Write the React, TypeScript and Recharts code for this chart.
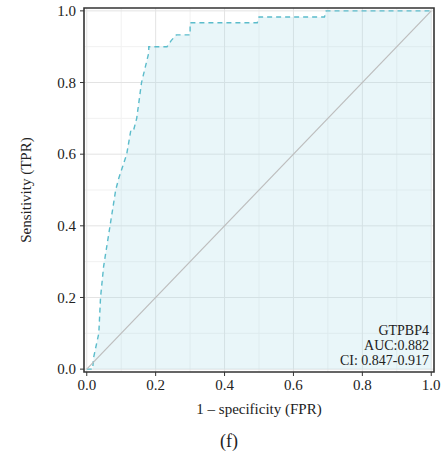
import React from 'react';
import {
  ComposedChart,
  Area,
  XAxis,
  YAxis,
  CartesianGrid,
  ReferenceLine,
  ReferenceArea,
} from 'recharts';

// ROC curve points
const fpr = [0, 0.017, 0.02, 0.035, 0.04, 0.049, 0.084, 0.093, 0.116, 0.128, 0.136, 0.145, 0.159, 0.18, 0.18, 0.233, 0.245, 0.26, 0.3, 0.3, 0.495, 0.5, 0.69, 0.695, 1.0];
const tpr = [0, 0, 0.033, 0.1, 0.2, 0.287, 0.5, 0.533, 0.6, 0.667, 0.667, 0.7, 0.8, 0.883, 0.9, 0.9, 0.917, 0.933, 0.933, 0.967, 0.967, 0.983, 0.983, 1.0, 1.0];

const majorTicks = [0, 0.2, 0.4, 0.6, 0.8, 1.0];
const minorTicks = [0.1, 0.3, 0.5, 0.7, 0.9];

const geneName = 'GTPBP4';
const aucText = 'AUC:0.882';
const ciText = 'CI: 0.847-0.917';

const DOMAIN: [number, number] = [-0.008, 1.008];
const FONT = '"Liberation Serif", "DejaVu Serif", serif';
const TEAL = '#5bbccb';
const INK = '#222';

const rocData = fpr.map((x, i) => ({ fpr: x, tpr: tpr[i] }));

const App: React.FC = () => {
  const tickStyle = { fill: INK, fontSize: 15, fontFamily: FONT };

  return (
    <div
      style={{
        position: 'absolute',
        left: 0,
        top: 0,
        width: 442,
        height: 453,
        background: '#fff',
        fontFamily: FONT,
      }}
    >
      <ComposedChart
        width={442}
        height={420}
        data={rocData}
        margin={{ top: 8, right: 8, bottom: 0, left: 0 }}
      >
        <CartesianGrid
          stroke="#f1f1f1"
          horizontalValues={minorTicks}
          verticalValues={minorTicks}
        />
        <CartesianGrid
          stroke="#e3e3e3"
          horizontalValues={majorTicks}
          verticalValues={majorTicks}
        />
        <XAxis
          type="number"
          dataKey="fpr"
          domain={DOMAIN}
          ticks={majorTicks}
          tickFormatter={(v: number) => v.toFixed(1)}
          allowDataOverflow
          height={48}
          axisLine={false}
          tickSize={4}
          tickMargin={3}
          tickLine={{ stroke: '#333' }}
          tick={tickStyle}
          label={{
            value: '1 \u2013 specificity (FPR)',
            position: 'insideBottom',
            offset: 6,
            fill: INK,
            fontSize: 15,
            fontFamily: FONT,
          }}
        />
        <YAxis
          type="number"
          domain={DOMAIN}
          ticks={majorTicks}
          tickFormatter={(v: number) => v.toFixed(1)}
          allowDataOverflow
          width={84}
          axisLine={false}
          tickSize={4}
          tickMargin={4}
          tickLine={{ stroke: '#333' }}
          tick={tickStyle}
          label={{
            value: 'Sensitivity (TPR)',
            angle: -90,
            position: 'center',
            dx: -16,
            fill: INK,
            fontSize: 15,
            fontFamily: FONT,
          }}
        />
        <Area
          type="linear"
          dataKey="tpr"
          stroke={TEAL}
          strokeWidth={1.4}
          strokeDasharray="5 4"
          fill="#a8dbe6"
          fillOpacity={0.25}
          isAnimationActive={false}
          dot={false}
          activeDot={false}
        />
        <ReferenceLine
          segment={[
            { x: 0, y: 0 },
            { x: 1, y: 1 },
          ]}
          stroke="#bdbdbd"
          strokeWidth={1.2}
        />
        <ReferenceArea
          x1={DOMAIN[0]}
          x2={DOMAIN[1]}
          y1={DOMAIN[0]}
          y2={DOMAIN[1]}
          fill="none"
          fillOpacity={0}
          stroke="#333"
          strokeWidth={1.6}
        />
      </ComposedChart>
      <div
        style={{
          position: 'absolute',
          right: 13,
          top: 323,
          textAlign: 'right',
          fontSize: 14,
          lineHeight: '15px',
          color: INK,
        }}
      >
        <div>{geneName}</div>
        <div>{aucText}</div>
        <div>{ciText}</div>
      </div>
      <div
        style={{
          position: 'absolute',
          left: 0,
          width: 458,
          top: 431,
          textAlign: 'center',
          fontSize: 18,
          color: INK,
        }}
      >
        (f)
      </div>
    </div>
  );
};

export default App;
